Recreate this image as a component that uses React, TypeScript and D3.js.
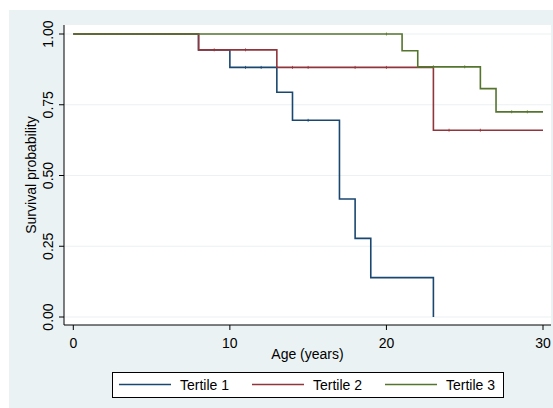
import React from 'react';
import * as d3 from 'd3';

// Kaplan-Meier step points per tertile: [age, survival]
const tertile1 = [[0, 1], [8, 0.944], [10, 0.882], [13, 0.794], [14, 0.695], [17, 0.417], [18, 0.278], [19, 0.139], [23, 0]];
const tertile2 = [[0, 1], [8, 0.944], [13, 0.882], [23, 0.66], [30, 0.66]];
const tertile3 = [[0, 1], [21, 0.941], [22, 0.884], [26, 0.807], [27, 0.725], [30, 0.725]];

// censoring times
const censor1 = [11, 12, 15];
const censor2 = [9, 11, 14, 15, 18, 20, 24, 26];
const censor3 = [20, 23, 25, 28, 29];

const seriesNames = ['Tertile 1', 'Tertile 2', 'Tertile 3'];
const colors = ['#1a476f', '#90353b', '#55752f'];
const xTicks = [0, 10, 20, 30];
const yTicks = [0, 0.25, 0.5, 0.75, 1];

const W = 553, H = 408;
const plot = { left: 64, right: 551, top: 25, bottom: 325 };
const font = '"Liberation Sans", Arial, sans-serif';

export default function App() {
  const x = d3.scaleLinear().domain([0, 30]).range([73.3, 543]);
  const y = d3.scaleLinear().domain([0, 1]).range([317, 34]);

  const line = d3.line<number[]>()
    .x(d => x(d[0]))
    .y(d => y(d[1]))
    .curve(d3.curveStepAfter);

  const steps = [tertile1, tertile2, tertile3];
  const censors = [censor1, censor2, censor3];

  // survival value at time t (step function)
  const survAt = (s: number[][], t: number) => {
    let v = s[0][1];
    s.forEach(p => { if (p[0] <= t) v = p[1]; });
    return v;
  };

  const legendX = [119, 252, 385];

  return (
    <svg width={W} height={H} style={{ position: 'absolute', left: 0, top: 0 }} fontFamily={font}>
      <rect x={0} y={0} width={W} height={H} fill="#ffffff" />
      <rect x={9} y={10} width={W - 9} height={H - 10} fill="#eaf2f3" />
      <rect x={plot.left} y={plot.top} width={plot.right - plot.left} height={plot.bottom - plot.top} fill="#ffffff" />

      {/* gridlines */}
      {yTicks.map(t => (
        <line key={'g' + t} x1={plot.left} x2={plot.right} y1={y(t)} y2={y(t)} stroke="#eaf2f3" strokeWidth={1.2} />
      ))}

      {/* survival curves */}
      {steps.map((s, i) => (
        <path key={'s' + i} d={line(s) || ''} fill="none" stroke={colors[i]} strokeWidth={1.6} />
      ))}
      {censors.map((c, i) => c.map(t => (
        <line key={'c' + i + '-' + t} x1={x(t)} x2={x(t)} y1={y(survAt(steps[i], t)) - 1.5} y2={y(survAt(steps[i], t)) + 1.5}
          stroke={colors[i]} strokeWidth={1} strokeOpacity={0.8} />
      )))}

      {/* axes */}
      <line x1={plot.left} x2={plot.left} y1={plot.top} y2={plot.bottom} stroke="#000" strokeWidth={1} />
      <line x1={plot.left} x2={plot.right} y1={plot.bottom} y2={plot.bottom} stroke="#000" strokeWidth={1} />
      {yTicks.map(t => (
        <g key={'yt' + t}>
          <line x1={plot.left - 5} x2={plot.left} y1={y(t)} y2={y(t)} stroke="#000" />
          <text transform={`translate(53,${y(t)}) rotate(-90)`} textAnchor="middle" fontSize={14} fill="#000">
            {d3.format('.2f')(t)}
          </text>
        </g>
      ))}
      {xTicks.map(t => (
        <g key={'xt' + t}>
          <line x1={x(t)} x2={x(t)} y1={plot.bottom} y2={plot.bottom + 5} stroke="#000" />
          <text x={x(t)} y={348} textAnchor="middle" fontSize={14} fill="#000">{t}</text>
        </g>
      ))}
      <text transform={`translate(36,${(plot.top + plot.bottom) / 2}) rotate(-90)`} textAnchor="middle" fontSize={14} fill="#000">
        Survival probability
      </text>
      <text x={(plot.left + plot.right) / 2} y={359} textAnchor="middle" fontSize={14} fill="#000">Age (years)</text>

      {/* legend */}
      <rect x={112.5} y={372.5} width={391} height={25} fill="#fff" stroke="#000" strokeWidth={1} />
      {seriesNames.map((n, i) => (
        <g key={'l' + i}>
          <line x1={legendX[i]} x2={legendX[i] + 52} y1={384.5} y2={384.5} stroke={colors[i]} strokeWidth={1.4} />
          <text x={legendX[i] + 61} y={390} fontSize={14} fill="#000">{n}</text>
        </g>
      ))}
    </svg>
  );
}
